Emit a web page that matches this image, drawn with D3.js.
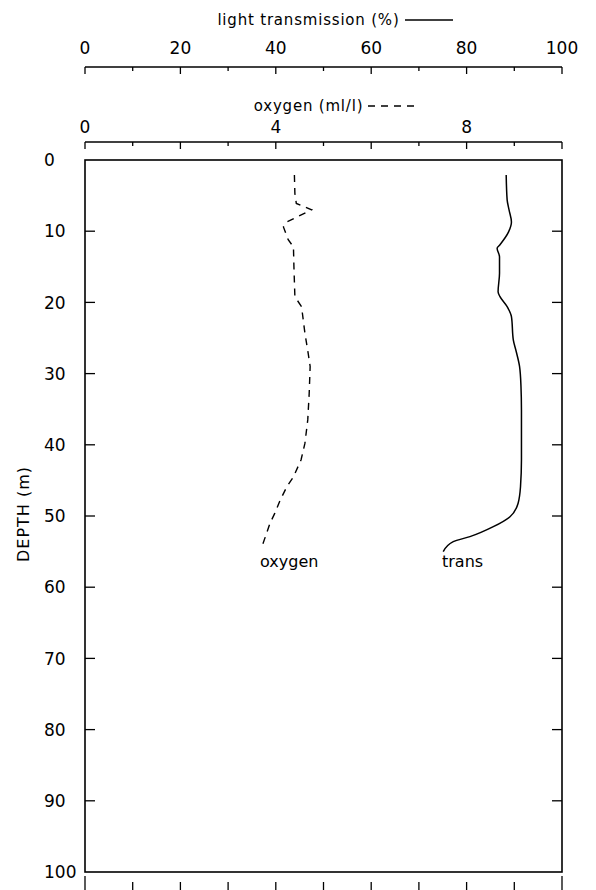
<!DOCTYPE html>
<html>
<head>
<meta charset="utf-8">
<script src="https://cdn.jsdelivr.net/npm/d3@7"></script>
<style>
  html, body { margin: 0; padding: 0; background: #fff; }
  svg { display: block; }
  text { font-family: "DejaVu Sans", "Liberation Sans", sans-serif; fill: #000; }
</style>
</head>
<body>
<svg id="chart" width="596" height="890"></svg>
<script>
// ---- data ----
const depthTicks = [0, 10, 20, 30, 40, 50, 60, 70, 80, 90, 100];
const transTickLabels = [0, 20, 40, 60, 80, 100];
const oxyTickLabels = [0, 4, 8];
const transTitle = "light transmission (%)";
const oxyTitle = "oxygen (ml/l)";
const yTitle = "DEPTH (m)";

const transDepth = [2.1, 5.6, 7.0, 8.7, 10.1, 11.9, 12.4, 13.6, 15.9, 18.5, 19.2, 20.6, 22.0, 25.3, 26.9, 29.0, 31.8, 35.1, 42.1, 45.9, 48.2, 50.1, 51.5, 52.9, 53.6, 55.0];
const transValue = [88.3, 88.5, 88.9, 89.4, 88.8, 87.0, 86.4, 86.9, 86.9, 86.6, 87.0, 88.5, 89.4, 89.8, 90.4, 91.1, 91.4, 91.5, 91.5, 91.3, 90.8, 89.1, 85.6, 80.7, 77.2, 75.1];

const oxyDepth = [2.1, 4.7, 6.1, 7.0, 8.7, 9.4, 11.2, 12.2, 15.0, 19.2, 20.6, 24.3, 27.2, 29.0, 32.8, 36.5, 39.8, 42.1, 44.5, 45.9, 47.8, 49.6, 51.0, 54.1];
const oxyValue = [4.39, 4.40, 4.43, 4.75, 4.23, 4.16, 4.26, 4.37, 4.38, 4.40, 4.54, 4.61, 4.68, 4.72, 4.70, 4.67, 4.61, 4.53, 4.37, 4.23, 4.09, 3.98, 3.88, 3.72];

// ---- layout ----
const L = 85, R = 562, T = 160, B = 872;
const svg = d3.select("#chart");
const x = d3.scaleLinear().domain([0, 100]).range([L, R]);
const xo = d3.scaleLinear().domain([0, 10]).range([L, R]);
const y = d3.scaleLinear().domain([0, 100]).range([T, B]);

const fs = 16;

// plot frame
svg.append("rect").attr("x", L).attr("y", T).attr("width", R - L).attr("height", B - T)
  .attr("fill", "none").attr("stroke", "#000").attr("stroke-width", 1.6);

// left & right inner ticks
const inner = depthTicks.filter(d => d > 0 && d < 100);
svg.append("g").selectAll("line").data(inner).join("line")
  .attr("x1", L).attr("x2", L + 10).attr("y1", d => y(d)).attr("y2", d => y(d))
  .attr("stroke", "#000").attr("stroke-width", 1.3);
svg.append("g").selectAll("line").data(inner).join("line")
  .attr("x1", R).attr("x2", R - 10).attr("y1", d => y(d)).attr("y2", d => y(d))
  .attr("stroke", "#000").attr("stroke-width", 1.3);

// depth labels
svg.append("g").selectAll("text").data(depthTicks).join("text")
  .attr("x", 44).attr("y", d => y(d)).attr("dy", "0.36em")
  .attr("font-size", fs + 1).text(d => d);

// y title
svg.append("text").attr("transform", `translate(29,${514}) rotate(-90)`)
  .attr("text-anchor", "middle").attr("font-size", fs).attr("letter-spacing", 1).text(yTitle);

// top axes helper
function topAxis(scale, step, max, lineY, labelVals, labelY, title, titleY, dashed, legendX1, legendX2) {
  const g = svg.append("g");
  g.append("line").attr("x1", L).attr("x2", R).attr("y1", lineY).attr("y2", lineY)
    .attr("stroke", "#000").attr("stroke-width", 1.4);
  const tv = d3.range(0, max + step / 2, step);
  g.selectAll("line.tk").data(tv).join("line").attr("class", "tk")
    .attr("x1", d => scale(d)).attr("x2", d => scale(d))
    .attr("y1", lineY).attr("y2", (d, i) => lineY + (i % 2 === 0 ? 7 : 4))
    .attr("stroke", "#000").attr("stroke-width", 1.3);
  g.selectAll("text.lb").data(labelVals).join("text").attr("class", "lb")
    .attr("x", d => scale(d)).attr("y", labelY).attr("text-anchor", "middle")
    .attr("font-size", fs + 1).text(d => d);
  g.append("text").attr("x", (L + R) / 2 - 15).attr("y", titleY).attr("text-anchor", "middle")
    .attr("font-size", fs - 1).attr("letter-spacing", 0.8).text(title);
  g.append("line").attr("x1", legendX1).attr("x2", legendX2)
    .attr("y1", titleY - 5).attr("y2", titleY - 5)
    .attr("stroke", "#000").attr("stroke-width", 1.3)
    .attr("stroke-dasharray", dashed ? "7,6" : null);
}
topAxis(x, 10, 100, 67, transTickLabels, 54, transTitle, 25, false, 405, 453);
topAxis(xo, 1, 10, 142, oxyTickLabels, 133, oxyTitle, 111, true, 368, 420);

// bottom partial axis (ticks only, cut off by page edge)
const bt = d3.range(0, 101, 10);
svg.append("g").selectAll("line").data(bt).join("line")
  .attr("x1", d => x(d)).attr("x2", d => x(d))
  .attr("y1", (d, i) => (i === 0 || i === bt.length - 1) ? 876 : 882).attr("y2", 895)
  .attr("stroke", "#000").attr("stroke-width", 1.3);

// series
const transLine = d3.line().x((d, i) => x(transValue[i])).y(d => y(d)).curve(d3.curveMonotoneY);
svg.append("path").datum(transDepth).attr("d", transLine)
  .attr("fill", "none").attr("stroke", "#000").attr("stroke-width", 1.5);

const oxyLine = d3.line().x((d, i) => xo(oxyValue[i])).y(d => y(d));
svg.append("path").datum(oxyDepth).attr("d", oxyLine)
  .attr("fill", "none").attr("stroke", "#000").attr("stroke-width", 1.4)
  .attr("stroke-dasharray", "7,6");

// series labels
svg.append("text").attr("x", 260).attr("y", 567).attr("font-size", fs).text("oxygen");
svg.append("text").attr("x", 442).attr("y", 567).attr("font-size", fs).text("trans");
</script>
</body>
</html>
